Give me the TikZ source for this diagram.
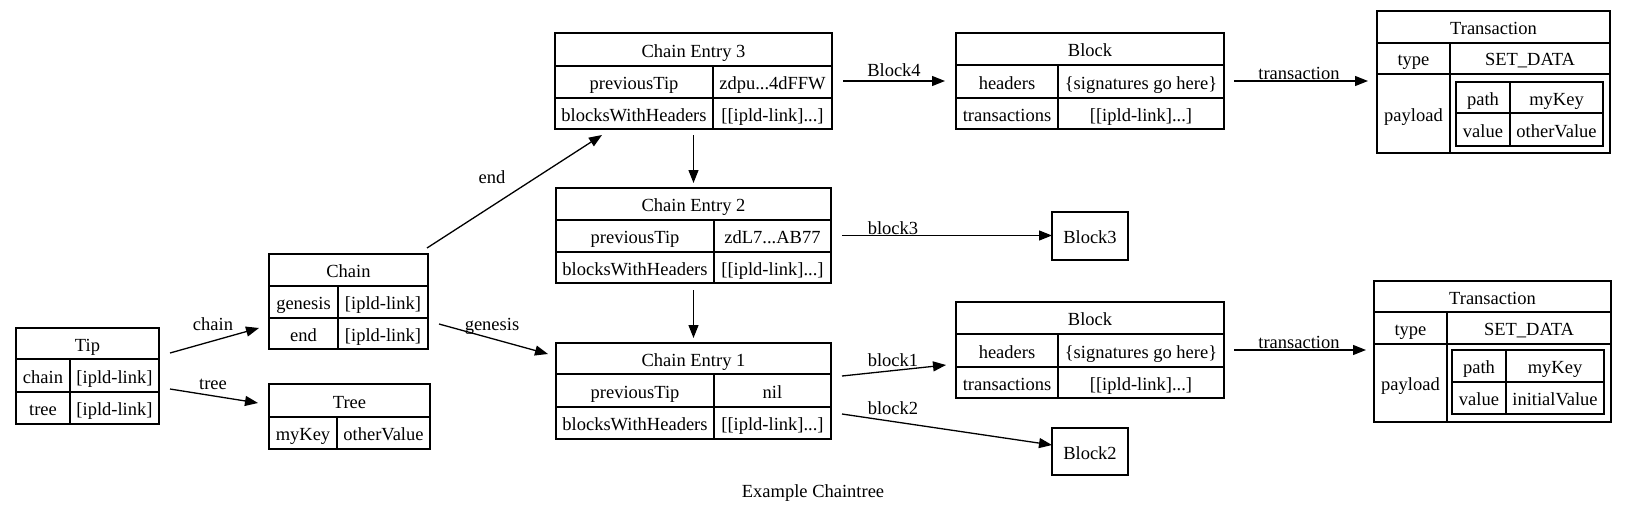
\documentclass[tikz,border=0pt]{standalone}
\usepackage{fontspec}
\setmainfont{Liberation Serif}
\usetikzlibrary{arrows.meta}
\newcommand\gfont{\fontsize{18.5}{22}\selectfont}
\newcommand\tcell[6]{\node[cell, minimum width={#4-#2}, minimum height={#5-#3}] (#1) at ({(#2+#4)/2},{(#3+#5)/2}) {#6};}
\newcommand\tframe[5]{\node[frame, minimum width={#4-#2}, minimum height={#5-#3}] (#1) at ({(#2+#4)/2},{(#3+#5)/2}) {};}
\begin{document}
\begin{tikzpicture}[x=1pt,y=-1pt,
  cell/.style={draw, line width=1.3pt, inner sep=0pt, outer sep=0pt, font=\gfont, text height=19pt, text depth=4pt},
  frame/.style={draw, line width=1.3pt, inner sep=0pt, outer sep=0pt},
  edge/.style={line width=1.3pt, -{Triangle[length=13pt,width=10pt]}},
  lbl/.style={font=\gfont, inner sep=0pt, anchor=base}]
\useasboundingbox (0,0) rectangle (1629,511);

% Tip
\tcell{tipH}{16}{328}{159}{359}{Tip}
\tcell{tipK1}{16}{359}{70}{392}{chain}
\tcell{tipV1}{70}{359}{159}{392}{[ipld-link]}
\tcell{tipK2}{16}{392}{70}{424}{tree}
\tcell{tipV2}{70}{392}{159}{424}{[ipld-link]}
\tframe{tip}{16}{328}{159}{424}

% Chain
\tcell{chainH}{269}{254}{428}{286}{Chain}
\tcell{chainK1}{269}{286}{338}{318}{genesis}
\tcell{chainV1}{338}{286}{428}{318}{[ipld-link]}
\tcell{chainK2}{269}{318}{338}{349}{end}
\tcell{chainV2}{338}{318}{428}{349}{[ipld-link]}
\tframe{chain}{269}{254}{428}{349}

% Tree
\tcell{treeH}{269}{384}{430}{417}{Tree}
\tcell{treeK}{269}{417}{337}{449}{myKey}
\tcell{treeV}{337}{417}{430}{449}{otherValue}
\tframe{tree}{269}{384}{430}{449}

% Chain Entry 3
\tcell{ce3H}{555}{33}{832}{66}{Chain Entry 3}
\tcell{ce3K1}{555}{66}{713}{98}{previousTip}
\tcell{ce3V1}{713}{66}{832}{98}{zdpu...4dFFW}
\tcell{ce3K2}{555}{98}{713}{129}{blocksWithHeaders}
\tcell{ce3V2}{713}{98}{832}{129}{[[ipld-link]...]}
\tframe{ce3}{555}{33}{832}{129}

% Chain Entry 2
\tcell{ce2H}{556}{188}{831}{220}{Chain Entry 2}
\tcell{ce2K1}{556}{220}{714}{252}{previousTip}
\tcell{ce2V1}{714}{220}{831}{252}{zdL7...AB77}
\tcell{ce2K2}{556}{252}{714}{283}{blocksWithHeaders}
\tcell{ce2V2}{714}{252}{831}{283}{[[ipld-link]...]}
\tframe{ce2}{556}{188}{831}{283}

% Chain Entry 1
\tcell{ce1H}{556}{343}{831}{374}{Chain Entry 1}
\tcell{ce1K1}{556}{374}{714}{407}{previousTip}
\tcell{ce1V1}{714}{374}{831}{407}{nil}
\tcell{ce1K2}{556}{407}{714}{439}{blocksWithHeaders}
\tcell{ce1V2}{714}{407}{831}{439}{[[ipld-link]...]}
\tframe{ce1}{556}{343}{831}{439}

% Block (top)
\tcell{blk4H}{956}{33}{1224}{65}{Block}
\tcell{blk4K1}{956}{65}{1058}{98}{headers}
\tcell{blk4V1}{1058}{65}{1224}{98}{\{signatures go here\}}
\tcell{blk4K2}{956}{98}{1058}{129}{transactions}
\tcell{blk4V2}{1058}{98}{1224}{129}{[[ipld-link]...]}
\tframe{blk4}{956}{33}{1224}{129}

% Block (bottom)
\tcell{blk1H}{956}{302}{1224}{334}{Block}
\tcell{blk1K1}{956}{334}{1058}{367}{headers}
\tcell{blk1V1}{1058}{334}{1224}{367}{\{signatures go here\}}
\tcell{blk1K2}{956}{367}{1058}{398}{transactions}
\tcell{blk1V2}{1058}{367}{1224}{398}{[[ipld-link]...]}
\tframe{blk1}{956}{302}{1224}{398}

% Block3, Block2
\tcell{block3}{1052}{212}{1128}{260}{Block3}
\tcell{block2}{1052}{428}{1128}{475}{Block2}

% Transaction (top)
\tcell{tx4H}{1377}{11}{1610}{43}{Transaction}
\tcell{tx4K1}{1377}{43}{1450}{74}{type}
\tcell{tx4V1}{1450}{43}{1610}{74}{SET\_DATA}
\tcell{tx4K2}{1377}{74}{1450}{153}{payload}
\tframe{tx4V2}{1450}{74}{1610}{153}
\tcell{tx4pK}{1456}{82}{1510}{113}{path}
\tcell{tx4pV}{1510}{82}{1603}{113}{myKey}
\tcell{tx4vK}{1456}{113}{1510}{146}{value}
\tcell{tx4vV}{1510}{113}{1603}{146}{otherValue}
\tframe{tx4in}{1456}{82}{1603}{146}
\tframe{tx4}{1377}{11}{1610}{153}

% Transaction (bottom)
\tcell{tx1H}{1374}{281}{1611}{312}{Transaction}
\tcell{tx1K1}{1374}{312}{1447}{344}{type}
\tcell{tx1V1}{1447}{312}{1611}{344}{SET\_DATA}
\tcell{tx1K2}{1374}{344}{1447}{422}{payload}
\tframe{tx1V2}{1447}{344}{1611}{422}
\tcell{tx1pK}{1452}{350}{1506}{382}{path}
\tcell{tx1pV}{1506}{350}{1604}{382}{myKey}
\tcell{tx1vK}{1452}{382}{1506}{414}{value}
\tcell{tx1vV}{1506}{382}{1604}{414}{initialValue}
\tframe{tx1in}{1452}{350}{1604}{414}
\tframe{tx1}{1374}{281}{1611}{422}

% Edges
\draw[edge] ([shift={(11pt,23pt)}]tip.east) -- ([shift={(-10pt,-26.5pt)}]chain.west);
\draw[edge] ([shift={(11pt,-13pt)}]tip.east) -- ([shift={(-11pt,13.5pt)}]tree.west);
\draw[edge] ([shift={(-1pt,6pt)}]chain.north east) -- ([shift={(47pt,-6pt)}]ce3.south west);
\draw[edge] ([shift={(11pt,-22.5pt)}]chain.east) -- ([shift={(-8pt,37pt)}]ce1.west);
\draw[edge, shorten <=6pt, shorten >=5pt] (ce3.south) -- (ce2.north);
\draw[edge, shorten <=7pt, shorten >=5pt] (ce2.south) -- (ce1.north);
\draw[edge, shorten <=11pt, shorten >=11pt] (ce3.east) -- (ce3.east -| blk4.west);
\draw[edge, shorten <=11pt] (ce2.east) -- (ce2.east -| block3.west);
\draw[edge] ([shift={(11pt,15pt)}]ce1.east) -- ([shift={(-10pt,-15pt)}]blk1.west);
\draw[edge] ([shift={(11pt,-23pt)}]ce1.east) -- ([shift={(0pt,6.5pt)}]block2.west);
\draw[edge, shorten <=10pt, shorten >=9pt] (blk4.east) -- (blk4.east -| tx4.west);
\draw[edge, shorten <=10pt, shorten >=8pt] (blk1.east) -- (blk1.east -| tx1.west);

% Edge labels
\node[lbl] (l-chain) at (213,330.5) {chain};
\node[lbl] (l-tree) at (213,389) {tree};
\node[lbl] (l-end) at (492,183) {end};
\node[lbl] (l-genesis) at (492,330) {genesis};
\node[lbl] (l-block4) at (894,77) {Block4};
\node[lbl] (l-block3) at (893,234) {block3};
\node[lbl] (l-block1) at (893,366) {block1};
\node[lbl] (l-block2) at (893,414) {block2};
\node[lbl] (l-tx4) at (1299,79.5) {transaction};
\node[lbl] (l-tx1) at (1299,348.5) {transaction};

% Caption
\node[lbl] (caption) at (813,497) {Example Chaintree};
\end{tikzpicture}
\end{document}
